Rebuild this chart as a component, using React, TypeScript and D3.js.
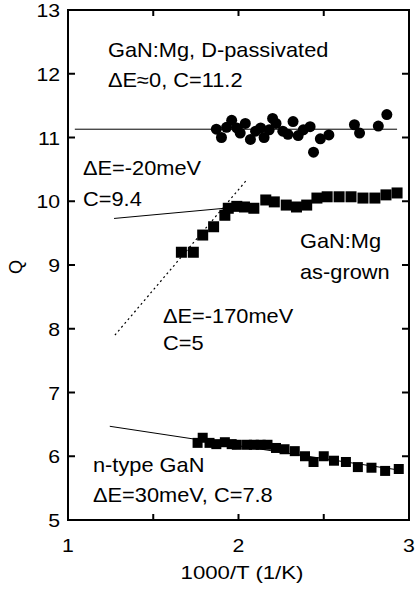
import React from 'react';
import * as d3 from 'd3';

// D-passivated GaN:Mg (circles)
const passivated: [number, number][] = [
  [1.87, 11.13], [1.9, 11.0], [1.93, 11.16], [1.96, 11.27], [1.99, 11.15],
  [2.01, 11.07], [2.04, 11.22], [2.07, 10.97], [2.1, 11.1], [2.13, 11.15],
  [2.15, 11.0], [2.18, 11.12], [2.2, 11.3], [2.22, 11.22], [2.26, 11.1],
  [2.29, 11.05], [2.32, 11.25], [2.35, 11.03], [2.38, 11.12], [2.42, 11.17],
  [2.44, 10.77], [2.48, 10.98], [2.53, 11.04], [2.68, 11.2], [2.71, 11.07],
  [2.82, 11.18], [2.87, 11.36],
];

// as-grown GaN:Mg (squares)
const asGrown: [number, number][] = [
  [1.665, 9.2], [1.735, 9.2], [1.79, 9.47], [1.854, 9.6], [1.92, 9.78],
  [1.94, 9.89], [1.99, 9.92], [2.035, 9.91], [2.09, 9.89], [2.16, 10.02],
  [2.21, 9.99], [2.28, 9.94], [2.34, 9.91], [2.4, 9.94], [2.46, 10.05],
  [2.52, 10.07], [2.59, 10.07], [2.66, 10.07], [2.73, 10.05], [2.8, 10.05],
  [2.865, 10.1], [2.93, 10.13],
];

// n-type GaN (squares)
const nType: [number, number][] = [
  [1.76, 6.21], [1.79, 6.29], [1.83, 6.21], [1.87, 6.19], [1.92, 6.22],
  [1.96, 6.19], [1.99, 6.18], [2.05, 6.18], [2.09, 6.18], [2.13, 6.18],
  [2.17, 6.18], [2.22, 6.13], [2.27, 6.11], [2.33, 6.08], [2.39, 6.0],
  [2.44, 5.91], [2.5, 6.0], [2.56, 5.93], [2.63, 5.91], [2.7, 5.83],
  [2.78, 5.82], [2.86, 5.77], [2.94, 5.8],
];

// fit lines
const fitPassivated: [number, number][] = [[1.04, 11.13], [2.93, 11.13]];
const fit20: [number, number][] = [[1.27, 9.73], [2.02, 9.915]];
const fit170: [number, number][] = [[1.275, 7.9], [2.047, 10.33]];
const fitN: [number, number][] = [[1.245, 6.47], [2.95, 5.78]];

const xTicks = [1, 2, 3];
const xMinor = [1.5, 2, 2.5];
const yTicks = [5, 6, 7, 8, 9, 10, 11, 12, 13];

const W = 417, H = 591;
const L = 68, R = 409, T = 10, B = 520;

const FONT = "'Liberation Sans', Arial, Helvetica, sans-serif";

function Label({ x, y, size = 20, sx = 1.09, anchor = 'start', children }: any) {
  return (
    <text transform={`translate(${x},${y}) scale(${sx},1)`} fontSize={size}
      fontFamily={FONT} textAnchor={anchor} fill="#000">{children}</text>
  );
}

export default function App() {
  const x = d3.scaleLinear().domain([1, 3]).range([L, R]);
  const y = d3.scaleLinear().domain([5, 13]).range([B, T]);
  const line = d3.line<[number, number]>().x(d => x(d[0])).y(d => y(d[1]));
  const sqA = 11;
  const sqN = 10;

  return (
    <svg width={W} height={H} style={{ position: 'absolute', left: 0, top: 0, background: '#fff' }}>
      <rect x={0} y={0} width={W} height={H} fill="#fff" />

      {/* fits */}
      <path d={line(fitPassivated)!} stroke="#000" strokeWidth={1} fill="none" />
      <path d={line(fit20)!} stroke="#000" strokeWidth={1} fill="none" />
      <path d={line(fit170)!} stroke="#000" strokeWidth={1.2} strokeDasharray="2,3" fill="none" />
      <path d={line(fitN)!} stroke="#000" strokeWidth={1} fill="none" />

      {/* data */}
      {passivated.map((d, i) => (
        <circle key={'c' + i} cx={x(d[0])} cy={y(d[1])} r={5.5} fill="#000" />
      ))}
      {asGrown.map((d, i) => (
        <rect key={'a' + i} x={x(d[0]) - sqA / 2} y={y(d[1]) - sqA / 2} width={sqA} height={sqA} fill="#000" />
      ))}
      {nType.map((d, i) => (
        <rect key={'n' + i} x={x(d[0]) - sqN / 2} y={y(d[1]) - sqN / 2} width={sqN} height={sqN} fill="#000" />
      ))}

      {/* frame */}
      <rect x={L} y={T} width={R - L} height={B - T} fill="none" stroke="#000" strokeWidth={2} />
      {xMinor.map(t => (
        <g key={'xt' + t}>
          <line x1={x(t)} x2={x(t)} y1={B} y2={B - 6} stroke="#000" strokeWidth={2} />
          <line x1={x(t)} x2={x(t)} y1={T} y2={T + 6} stroke="#000" strokeWidth={2} />
        </g>
      ))}
      {yTicks.map(t => (
        <g key={'yt' + t}>
          <line x1={L} x2={L + 7} y1={y(t)} y2={y(t)} stroke="#000" strokeWidth={2} />
          <line x1={R} x2={R - 7} y1={y(t)} y2={y(t)} stroke="#000" strokeWidth={2} />
          <Label x={60} y={y(t) + 7} size={18} sx={1.18} anchor="end">{t}</Label>
        </g>
      ))}
      {xTicks.map(t => (
        <Label key={'xl' + t} x={x(t)} y={552} size={18} sx={1.18} anchor="middle">{t}</Label>
      ))}

      {/* axis titles */}
      <Label x={242} y={579} size={18.5} sx={1.2} anchor="middle">1000/T (1/K)</Label>
      <text transform="translate(22,267) rotate(-90)" fontSize={18} fontFamily={FONT} textAnchor="middle">Q</text>

      {/* annotations */}
      <Label x={108} y={57}>GaN:Mg, D-passivated</Label>
      <Label x={108} y={87}>{'\u0394E\u22480, C=11.2'}</Label>
      <Label x={83} y={175}>{'\u0394E=-20meV'}</Label>
      <Label x={83} y={206}>C=9.4</Label>
      <Label x={300} y={248}>GaN:Mg</Label>
      <Label x={300} y={279}>as-grown</Label>
      <Label x={163} y={323}>{'\u0394E=-170meV'}</Label>
      <Label x={163} y={350}>C=5</Label>
      <Label x={93} y={472}>n-type GaN</Label>
      <Label x={93} y={502}>{'\u0394E=30meV, C=7.8'}</Label>
    </svg>
  );
}
